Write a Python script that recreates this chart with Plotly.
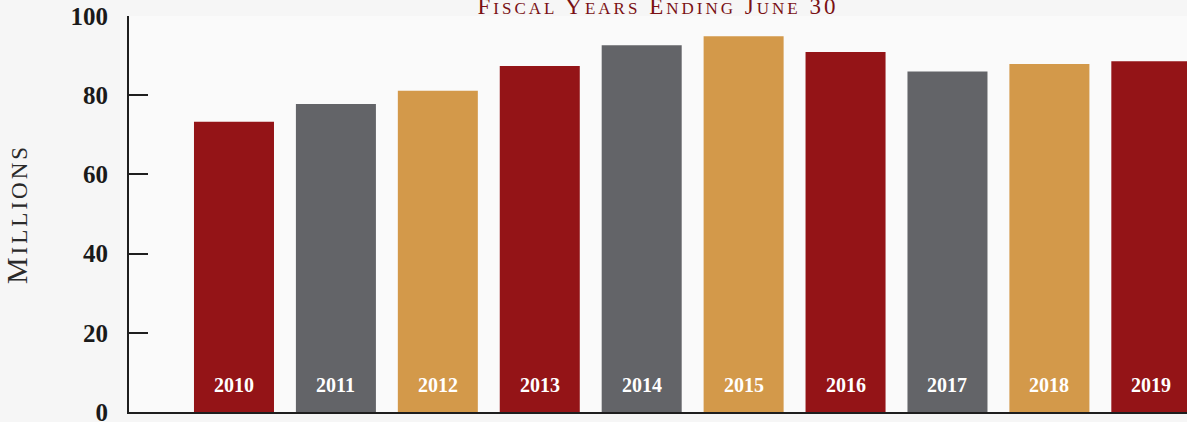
import plotly.graph_objects as go

years = ["2010", "2011", "2012", "2013", "2014", "2015", "2016", "2017", "2018", "2019"]
values = [73.3, 77.8, 81.1, 87.4, 92.6, 94.9, 90.9, 86.0, 87.9, 88.6]
colors = ["#941417", "#636468", "#d3994a", "#941417", "#636468", "#d3994a",
          "#941417", "#636468", "#d3994a", "#941417"]
tick_vals = [0, 20, 40, 60, 80, 100]

SERIF = "Liberation Serif, Times New Roman, serif"
AXIS_COLOR = "#1e1e1e"

fig = go.Figure()
fig.add_trace(go.Bar(
    x=years, y=values, marker=dict(color=colors, line=dict(width=0)),
    width=0.785, hoverinfo="x+y",
))

for i, yr in enumerate(years):
    fig.add_annotation(
        x=i, y=0, xref="x", yref="paper", yshift=27, yanchor="middle",
        text="<b>%s</b>" % yr, showarrow=False,
        font=dict(family=SERIF, size=20, color="#ffffff"),
    )

sc = "<span style='font-size:17px'>%s</span>"
fig.update_layout(
    width=1187, height=422,
    margin=dict(l=129, r=0, t=16, b=10, autoexpand=False),
    paper_bgcolor="#f6f6f6", plot_bgcolor="#fafafa",
    showlegend=False, bargap=0.2,
    title=dict(
        text="<span style='letter-spacing:3px'>F" + sc % "ISCAL" + " Y" + sc % "EARS"
             + " E" + sc % "NDING" + " J" + sc % "UNE" + " 30</span>",
        x=0.5543, xanchor="center", xref="container",
        y=0.985, yanchor="middle", yref="container",
        font=dict(family=SERIF, size=23, color="#7a1114"),
    ),
    xaxis=dict(
        type="category", range=[-1.03, 9.35], showticklabels=False, ticks="",
        showline=True, linecolor=AXIS_COLOR, linewidth=2, showgrid=False, zeroline=False,
        fixedrange=True, automargin=False,
    ),
    yaxis=dict(
        range=[0, 100], tickvals=tick_vals, ticks="inside", ticklen=19, tickwidth=2,
        tickcolor=AXIS_COLOR, showline=True, linecolor=AXIS_COLOR, linewidth=2,
        showgrid=False, zeroline=False, ticklabelstandoff=14, ticklabeloverflow="allow",
        tickfont=dict(family=SERIF, size=25, color="#1a1a1a", weight="bold"),
        title=dict(
            text="<span style='letter-spacing:3px'>M<span style='font-size:23px'>ILLIONS</span></span>",
            font=dict(family=SERIF, size=30, color="#2a2a2a"), standoff=36,
        ),
        fixedrange=True, automargin=False,
    ),
)

fig.write_html(
    "out.html",
    config={"displayModeBar": False},
    post_script="document.body.style.margin='0';document.body.style.overflow='hidden';",
)
